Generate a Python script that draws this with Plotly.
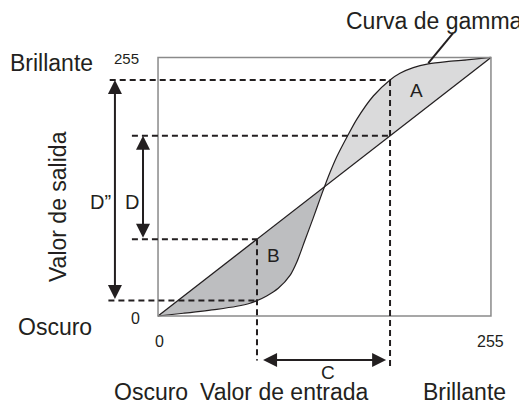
import plotly.graph_objects as go

# gamma curve (input -> output, 0..255)
gamma_in = [0, 19.4, 45.0, 60.3, 70.5, 75.8, 83.2, 92.1, 101.1, 106.4, 112.6, 118.9, 124.1,
            127.5, 131.7, 136.9, 144.5, 152.2, 164.9, 177.7, 185.3, 195.5, 207.0, 221.1, 236.4, 255]
gamma_out = [0, 2.7, 6.6, 9.6, 12.6, 15.2, 19.8, 27.3, 40.0, 53.5, 75.0, 96.8, 115.5,
             127.5, 141.5, 157.0, 176.0, 194.0, 217.0, 232.8, 239.4, 245.0, 248.6, 250.9, 252.6, 255]
diag = [0, 255]
cross_idx = 13  # curve meets the straight line here

# input levels marked with the dashed guides
in_low, in_high = 75.8, 177.7
out_low, out_high = 15.2, 232.8

FONT = "Liberation Sans, Arial, Helvetica, sans-serif"
INK = "#231f20"

fig = go.Figure()

# area A (curve above line) and B (line above curve)
fig.add_trace(go.Scatter(
    x=gamma_in[cross_idx:], y=gamma_out[cross_idx:], fill="toself",
    fillcolor="#dadadb", mode="lines", line=dict(width=0), hoverinfo="skip"))
fig.add_trace(go.Scatter(
    x=gamma_in[:cross_idx + 1], y=gamma_out[:cross_idx + 1], fill="toself",
    fillcolor="#bdbec0", mode="lines", line=dict(width=0), hoverinfo="skip"))

# frame
fig.add_shape(type="rect", x0=0, y0=0, x1=255, y1=255,
              line=dict(color="#8a8a8a", width=1.5))

# straight reference line
fig.add_trace(go.Scatter(x=diag, y=diag, mode="lines",
                         line=dict(color=INK, width=1.3), hoverinfo="skip"))
# gamma curve
fig.add_trace(go.Scatter(x=gamma_in, y=gamma_out, mode="lines",
                         line=dict(color=INK, width=1.2, shape="spline", smoothing=0.8),
                         hoverinfo="skip"))

# dashed guides
dash = dict(color=INK, width=2, dash="6px,4px")
guides = [
    (in_low, in_low, in_low, -44),      # vertical at low input
    (in_high, out_high, in_high, -51),  # vertical at high input
    (-37, out_high, in_high, out_high),
    (-20, in_high, in_high, in_high),
    (-20, in_low, in_low, in_low),
    (-38, out_low, in_low, out_low),
]
for x0, y0, x1, y1 in guides:
    fig.add_shape(type="line", x0=x0, y0=y0, x1=x1, y1=y1, line=dash)

# leader line for the label
fig.add_shape(type="line", x0=226, y0=279, x1=207, y1=249.5,
              line=dict(color=INK, width=2))

# double arrows
arrows = [
    (-33, out_low, -33, out_high),   # D''
    (-11.5, in_low, -11.5, in_high),  # D
    (in_low + 3.5, -43.4, in_high - 3, -43.4),  # C
]
for x0, y0, x1, y1 in arrows:
    fig.add_annotation(x=x1, y=y1, ax=x0, ay=y0, xref="x", yref="y",
                       axref="x", ayref="y", text="", showarrow=True,
                       arrowside="end+start", arrowhead=2, arrowsize=1.4,
                       arrowwidth=2, arrowcolor=INK, standoff=0, startstandoff=0)

labels = [
    ("Curva de gamma", 211.4, 291.0, 23, 0),
    ("Brillante", -81.5, 249.6, 23, 0),
    ("255", -24.5, 253.5, 15, 0),
    ("Valor de salida", -76.6, 107.5, 23, -90),
    ("D\u201d", -44.4, 112.5, 20, 0),
    ("D", -20.0, 112.5, 20, 0),
    ("0", -17.6, -2, 16, 0),
    ("Oscuro", -79.0, -11.0, 23, 0),
    ("0", 1.5, -25.6, 16, 0),
    ("255", 255, -25.2, 16, 0),
    ("C", 130.2, -55.5, 19, 0),
    ("Oscuro", -5.4, -74.5, 23, 0),
    ("Valor de entrada", 96.5, -74.5, 23, 0),
    ("Brillante", 235.1, -74.5, 23, 0),
    ("A", 198.3, 222.0, 19, 0),
    ("B", 88.1, 59.2, 19, 0),
]
for txt, x, y, size, ang in labels:
    fig.add_annotation(x=x, y=y, text=txt, showarrow=False, textangle=ang,
                       font=dict(family=FONT, size=size, color=INK),
                       xanchor="center", yanchor="middle")

# the page body adds an 8px margin, so the figure starts at (8, 8)
fig.update_layout(
    width=519, height=397,
    margin=dict(l=0, r=0, t=0, b=0),
    paper_bgcolor="white", plot_bgcolor="white",
    showlegend=False,
    xaxis=dict(range=[-114.9, 282.6], visible=False, fixedrange=True),
    yaxis=dict(range=[-87.8, 303.8], visible=False, fixedrange=True),
)

fig.write_html("out.html")
